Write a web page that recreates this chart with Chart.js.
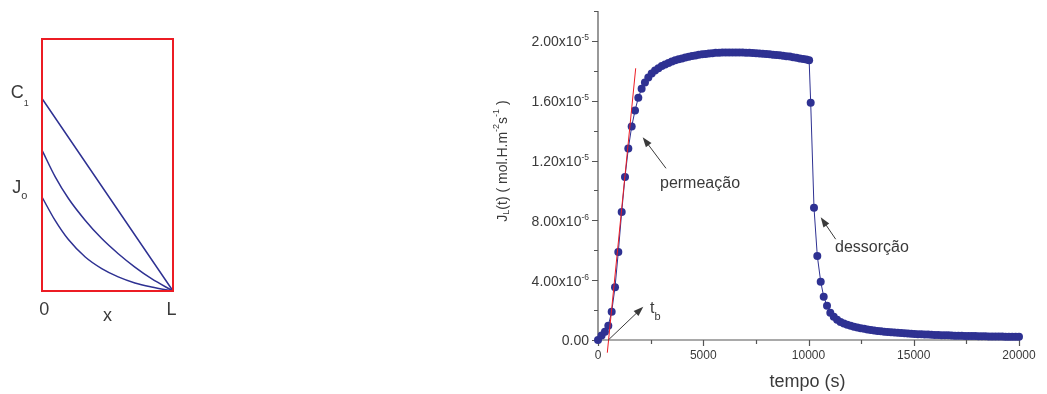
<!DOCTYPE html>
<html>
<head>
<meta charset="utf-8">
<script src="https://cdn.jsdelivr.net/npm/chart.js@4.4.1/dist/chart.umd.min.js"></script>
<style>
  body { margin: 0; background: #fff; width: 1047px; height: 394px; position: relative; overflow: hidden; }
  canvas { position: absolute; top: 0; }
  #profile { left: 0; }
  #flux { left: 480px; }
</style>
</head>
<body>
<canvas id="profile" width="200" height="340"></canvas>
<canvas id="flux" width="567" height="394"></canvas>
<script>
// ---- left panel: concentration profiles across the membrane (x from 0 to L)
var lineX   = [0, 1];
var lineC   = [0.764, 0];
var midX    = [0, 0.101, 0.202, 0.329, 0.456, 0.582, 0.709, 0.836, 1];
var midC    = [0.559, 0.453, 0.367, 0.281, 0.208, 0.148, 0.095, 0.049, 0];
var lowX    = [0, 0.1, 0.2, 0.33, 0.456, 0.582, 0.709, 0.836, 1];
var lowC    = [0.373, 0.28, 0.205, 0.135, 0.089, 0.056, 0.032, 0.016, 0];

// ---- right panel: permeation / desorption transient, J in 1e-6 mol.H.m-2.s-1
var riseTime = [0, 170, 330, 490, 650, 808, 965, 1126, 1283, 1440,
                1600, 1758, 1915, 2072, 2230];
var riseFlux = [0, 0.30, 0.55, 0.96, 1.89, 3.52, 5.89, 8.56, 10.90, 12.80,
                14.27, 15.34, 16.20, 16.80, 17.22];

var plateauTime = [2390, 2550, 2710, 2870, 3030, 3190, 3350, 3510, 3670, 3830,
                   3990, 4150, 4310, 4470, 4630, 4790, 4950, 5110, 5270, 5430,
                   5590, 5750, 5910, 6070, 6230, 6390, 6550, 6710, 6870, 7030,
                   7190, 7350, 7510, 7670, 7830, 7990, 8150, 8310, 8470, 8630,
                   8790, 8950, 9110, 9270, 9430, 9590, 9750, 9900, 10030];
var plateauFlux = [17.55, 17.82, 18.02, 18.18, 18.32, 18.43, 18.53, 18.62, 18.70, 18.77,
                   18.83, 18.89, 18.94, 18.99, 19.03, 19.07, 19.10, 19.13, 19.16, 19.18,
                   19.20, 19.21, 19.22, 19.23, 19.23, 19.23, 19.23, 19.22, 19.22, 19.21,
                   19.20, 19.19, 19.18, 19.16, 19.14, 19.12, 19.10, 19.08, 19.06, 19.04,
                   19.01, 18.98, 18.95, 18.91, 18.87, 18.83, 18.79, 18.75, 18.70];

var decayTime = [10104, 10261, 10418, 10580, 10722, 10879, 11036,
                 11200, 11360, 11520, 11680, 11840, 12000, 12160, 12320, 12480, 12640,
                 12800, 12960, 13120, 13280, 13440, 13600, 13760, 13920, 14080, 14240,
                 14400, 14560, 14720, 14880, 15040, 15200, 15360, 15520, 15680, 15840,
                 16000, 16160, 16320, 16480, 16640, 16800, 16960, 17120, 17280, 17440,
                 17600, 17760, 17920, 18080, 18240, 18400, 18560, 18720, 18880, 19040,
                 19200, 19360, 19520, 19680, 19840, 20000];
var decayFlux = [15.87, 8.85, 5.62, 3.90, 2.90, 2.29, 1.83,
                 1.56, 1.36, 1.21, 1.10, 1.02, 0.95, 0.89, 0.84, 0.79, 0.75,
                 0.71, 0.67, 0.64, 0.61, 0.58, 0.56, 0.54, 0.52, 0.50, 0.48,
                 0.46, 0.45, 0.43, 0.42, 0.40, 0.39, 0.38, 0.37, 0.36, 0.35,
                 0.34, 0.33, 0.32, 0.32, 0.31, 0.30, 0.29, 0.29, 0.28, 0.27,
                 0.27, 0.26, 0.26, 0.25, 0.25, 0.25, 0.24, 0.24, 0.23, 0.23,
                 0.23, 0.22, 0.22, 0.22, 0.21, 0.21];

// tangent used to read the breakthrough time t_b
var fitTime = [442, 1791];
var fitFlux = [-0.85, 18.17];

var xTickValues = [0, 5000, 10000, 15000, 20000];
var xTickLabels = ['0', '5000', '10000', '15000', '20000'];
var yTickValues = [0, 4e-6, 8e-6, 1.2e-5, 1.6e-5, 2e-5];
var yTickLabels = ['0.00', '4.00x10', '8.00x10', '1.20x10', '1.60x10', '2.00x10'];
var yTickPowers = ['', '-6', '-6', '-5', '-5', '-5'];

var FONT = '"Liberation Sans", Arial, sans-serif';
var INK = '#3a3a3a';
var NAVY = '#2e3192';
var RED = '#ec1c24';

function pts(xs, ys, k) {
    return xs.map(function (x, i) { return { x: x, y: ys[i] * (k || 1) }; });
}

function drawRich(ctx, x, y, parts, align) {
    var w = 0;
    parts.forEach(function (p) { ctx.font = p.size + 'px ' + FONT; w += ctx.measureText(p.text).width; });
    var cx = align === 'right' ? x - w : (align === 'center' ? x - w / 2 : x);
    ctx.textAlign = 'left';
    ctx.textBaseline = 'middle';
    parts.forEach(function (p) {
        ctx.font = p.size + 'px ' + FONT;
        ctx.fillText(p.text, cx, y + (p.dy || 0));
        cx += ctx.measureText(p.text).width;
    });
}

function arrow(ctx, x1, y1, x2, y2) {
    var a = Math.atan2(y2 - y1, x2 - x1);
    ctx.beginPath();
    ctx.moveTo(x1, y1);
    ctx.lineTo(x2 - 6 * Math.cos(a), y2 - 6 * Math.sin(a));
    ctx.stroke();
    ctx.beginPath();
    ctx.moveTo(x2, y2);
    ctx.lineTo(x2 - 10 * Math.cos(a) + 3.5 * Math.sin(a), y2 - 10 * Math.sin(a) - 3.5 * Math.cos(a));
    ctx.lineTo(x2 - 10 * Math.cos(a) - 3.5 * Math.sin(a), y2 - 10 * Math.sin(a) + 3.5 * Math.cos(a));
    ctx.closePath();
    ctx.fill();
}

// ---------------- left chart
var boxPlugin = {
    id: 'box',
    afterDatasetsDraw: function (chart) {
        var ctx = chart.ctx, a = chart.chartArea, x = chart.scales.x, y = chart.scales.y;
        ctx.save();
        ctx.strokeStyle = RED;
        ctx.lineWidth = 2;
        ctx.strokeRect(a.left, a.top, a.right - a.left, a.bottom - a.top);
        ctx.fillStyle = INK;
        drawRich(ctx, x.getPixelForValue(-0.17), y.getPixelForValue(0.785),
            [{ text: 'C', size: 18 }, { text: '1', size: 9, dy: 10 }], 'center');
        drawRich(ctx, x.getPixelForValue(-0.17), y.getPixelForValue(0.408),
            [{ text: 'J', size: 18 }, { text: 'o', size: 11, dy: 8 }], 'center');
        drawRich(ctx, x.getPixelForValue(0.017), y.getPixelForValue(-0.077), [{ text: '0', size: 18 }], 'center');
        drawRich(ctx, x.getPixelForValue(0.5), y.getPixelForValue(-0.1), [{ text: 'x', size: 18 }], 'center');
        drawRich(ctx, x.getPixelForValue(0.988), y.getPixelForValue(-0.077), [{ text: 'L', size: 18 }], 'center');
        ctx.restore();
    }
};

function profileSet(xs, cs) {
    return {
        data: pts(xs, cs),
        borderColor: NAVY,
        borderWidth: 1.5,
        pointRadius: 0,
        cubicInterpolationMode: 'monotone',
        clip: false
    };
}

new Chart(document.getElementById('profile'), {
    type: 'line',
    data: { datasets: [profileSet(lineX, lineC), profileSet(midX, midC), profileSet(lowX, lowC)] },
    options: {
        responsive: false,
        animation: false,
        layout: { padding: { left: 42, right: 27, top: 39, bottom: 49 } },
        plugins: { legend: { display: false }, tooltip: { enabled: false } },
        scales: {
            x: { type: 'linear', min: 0, max: 1, display: false },
            y: { type: 'linear', min: 0, max: 1, display: false }
        }
    },
    plugins: [boxPlugin]
});

// ---------------- right chart
var axesPlugin = {
    id: 'axes',
    beforeDatasetsDraw: function (chart) {
        var ctx = chart.ctx, a = chart.chartArea, x = chart.scales.x, y = chart.scales.y;
        ctx.save();
        ctx.strokeStyle = '#555';
        ctx.lineWidth = 1.2;
        ctx.beginPath();
        ctx.moveTo(a.left, a.top);
        ctx.lineTo(a.left, a.bottom);
        ctx.lineTo(a.right, a.bottom);
        for (var i = 0; i <= 11; i++) {
            var py = Math.round(y.getPixelForValue(i * 2e-6)) + 0.5;
            ctx.moveTo(a.left, py);
            ctx.lineTo(a.left - (i % 2 ? 4 : 6), py);
        }
        for (var j = 0; j <= 8; j++) {
            var px = Math.round(x.getPixelForValue(j * 2500)) + 0.5;
            ctx.moveTo(px, a.bottom);
            ctx.lineTo(px, a.bottom + (j % 2 ? 4 : 6));
        }
        ctx.stroke();
        ctx.restore();
    },
    afterDraw: function (chart) {
        var ctx = chart.ctx, a = chart.chartArea, x = chart.scales.x, y = chart.scales.y;
        ctx.save();
        ctx.fillStyle = INK;
        ctx.strokeStyle = INK;
        ctx.lineWidth = 1;
        yTickValues.forEach(function (v, i) {
            var py = y.getPixelForValue(v);
            var parts = [{ text: yTickLabels[i], size: 14, dy: 1.5 }];
            if (yTickPowers[i]) parts.push({ text: yTickPowers[i], size: 8.5, dy: -3 });
            drawRich(ctx, a.left - 9, py, parts, 'right');
        });
        xTickValues.forEach(function (v, i) {
            drawRich(ctx, x.getPixelForValue(v), a.bottom + 16, [{ text: xTickLabels[i], size: 12 }], 'center');
        });
        drawRich(ctx, (a.left + a.right) / 2 - 1, a.bottom + 42, [{ text: 'tempo (s)', size: 18 }], 'center');

        ctx.save();
        ctx.translate(a.left - 95, 161);
        ctx.rotate(-Math.PI / 2);
        drawRich(ctx, 0, 0, [
            { text: 'J', size: 14 }, { text: 'L', size: 9, dy: 4 },
            { text: '(t) ( mol.H.m', size: 14 }, { text: '-2', size: 9, dy: -6 },
            { text: 's', size: 14 }, { text: '-1', size: 9, dy: -6 },
            { text: ' )', size: 14 }
        ], 'center');
        ctx.restore();

        arrow(ctx, x.getPixelForValue(3230), y.getPixelForValue(11.48e-6), x.getPixelForValue(2123), y.getPixelForValue(13.56e-6));
        drawRich(ctx, x.getPixelForValue(2945), y.getPixelForValue(10.43e-6), [{ text: 'permeação', size: 16 }], 'left');
        arrow(ctx, x.getPixelForValue(11292), y.getPixelForValue(6.74e-6), x.getPixelForValue(10580), y.getPixelForValue(8.21e-6));
        drawRich(ctx, x.getPixelForValue(11259), y.getPixelForValue(6.15e-6), [{ text: 'dessorção', size: 16 }], 'left');
        arrow(ctx, x.getPixelForValue(489), y.getPixelForValue(0), x.getPixelForValue(2152), y.getPixelForValue(2.23e-6));
        drawRich(ctx, x.getPixelForValue(2470), y.getPixelForValue(2.07e-6),
            [{ text: 't', size: 16 }, { text: 'b', size: 11, dy: 8 }], 'left');
        ctx.restore();
    }
};

var fluxTime = riseTime.concat(plateauTime, decayTime);
var fluxJ = riseFlux.concat(plateauFlux, decayFlux);

new Chart(document.getElementById('flux'), {
    type: 'line',
    data: {
        datasets: [{
            data: pts(fitTime, fitFlux, 1e-6),
            borderColor: RED,
            borderWidth: 1,
            pointRadius: 0,
            clip: false
        }, {
            data: pts(fluxTime, fluxJ, 1e-6),
            borderColor: NAVY,
            backgroundColor: NAVY,
            borderWidth: 1,
            pointRadius: 4,
            pointBorderWidth: 0,
            clip: false
        }]
    },
    options: {
        responsive: false,
        animation: false,
        layout: { padding: { left: 118, right: 28, top: 11, bottom: 54 } },
        plugins: { legend: { display: false }, tooltip: { enabled: false } },
        scales: {
            x: { type: 'linear', min: 0, max: 20000, display: false },
            y: { type: 'linear', min: 0, max: 2.2e-5, display: false }
        }
    },
    plugins: [axesPlugin]
});
</script>
</body>
</html>
